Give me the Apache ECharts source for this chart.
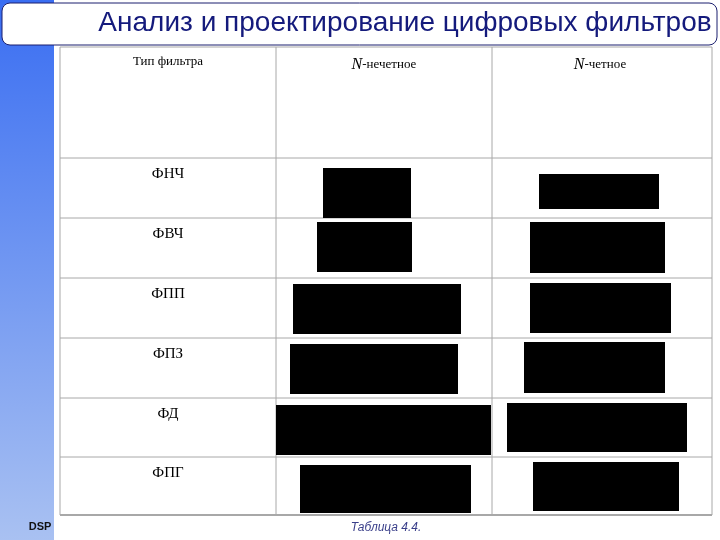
<!DOCTYPE html>
<html><head><meta charset="utf-8">
<script src="https://cdn.jsdelivr.net/npm/echarts@6/dist/echarts.min.js"></script>
<style>html,body{margin:0;padding:0;background:#fff}#c{width:720px;height:540px}</style>
</head><body><div id="c"></div>
<script>
// filter types (rows) and column headers
const filterTypes = ['ФНЧ', 'ФВЧ', 'ФПП', 'ФПЗ', 'ФД', 'ФПГ'];
const columns = ['Тип фильтра', 'N-нечетное', 'N-четное'];
// response sketches: [x0, x1, y0, y1] in slide units
const oddShapes = [[323, 411, 168, 218], [317, 412, 222, 272], [293, 461, 284, 334],
  [290, 458, 344, 394], [276, 491, 405, 455], [300, 471, 465, 513]];
const evenShapes = [[539, 659, 174, 209], [530, 665, 222, 273], [530, 671, 283, 333],
  [524, 665, 342, 393], [507, 687, 403, 452], [533, 679, 462, 511]];

const rowLines = [47, 158, 218, 278, 338, 398, 457, 515];
const colLines = [60, 276, 492, 712];

const chart = echarts.init(document.getElementById('c'));

const serif = '"Liberation Serif", "DejaVu Serif", serif';
const graphics = [
  {type: 'rect', shape: {x: 0, y: 0, width: 54, height: 540}, z: -10,
    style: {fill: new echarts.graphic.LinearGradient(0, 0, 0, 1, [
      {offset: 0, color: '#3a6ef2'}, {offset: 1, color: '#a9c1f2'}])}},
  {type: 'rect', shape: {x: 2, y: 3, width: 715, height: 42, r: 8},
    style: {fill: '#fff', stroke: '#1b1f6e', lineWidth: 1}},
  {type: 'text', x: 405, y: 23, style: {text: 'Анализ и проектирование цифровых фильтров',
    font: '28px "Liberation Sans", Arial, sans-serif', fill: '#141a7c', align: 'center', verticalAlign: 'middle',
    textShadowColor: '#8a8aa8', textShadowOffsetX: 1, textShadowOffsetY: 1}},
  {type: 'text', x: 40, y: 527, style: {text: 'DSP', font: 'bold 11px "Liberation Sans", sans-serif',
    fill: '#111', align: 'center', verticalAlign: 'middle'}},
  {type: 'text', x: 386, y: 528, style: {text: 'Таблица 4.4.', font: 'italic 12px "Liberation Sans", sans-serif',
    fill: '#3a3f8a', align: 'center', verticalAlign: 'middle'}}
];
rowLines.forEach(y => graphics.push({type: 'line', shape: {x1: 60, y1: y, x2: 712, y2: y},
  style: {stroke: '#a8a8a8', lineWidth: y === 515 ? 2 : 1}}));
colLines.forEach(x => graphics.push({type: 'line', shape: {x1: x, y1: 47, x2: x, y2: 515},
  style: {stroke: '#a8a8a8', lineWidth: 1}}));
graphics.push({type: 'text', x: 168, y: 62, style: {text: columns[0], font: '13px ' + serif, fill: '#000', align: 'center', verticalAlign: 'middle'}});
graphics.push({type: 'text', x: 384, y: 65, style: {text: '{i|N}-нечетное', font: '13px ' + serif, fill: '#000', align: 'center', verticalAlign: 'middle',
  rich: {i: {fontStyle: 'italic', fontFamily: serif, fontSize: 16}}}});
graphics.push({type: 'text', x: 600, y: 65, style: {text: '{i|N}-четное', font: '13px ' + serif, fill: '#000', align: 'center', verticalAlign: 'middle',
  rich: {i: {fontStyle: 'italic', fontFamily: serif, fontSize: 16}}}});
filterTypes.forEach((t, i) => graphics.push({type: 'text', x: 168, y: rowLines[i + 1] + 16,
  style: {text: t, font: '15px ' + serif, fill: '#000', align: 'center', verticalAlign: 'middle'}}));

function rectSeries(data) {
  return {
    type: 'custom', data: data,
    renderItem: (params, api) => {
      const p0 = api.coord([api.value(0), api.value(2)]);
      const p1 = api.coord([api.value(1), api.value(3)]);
      return {type: 'rect', shape: {x: p0[0], y: p0[1], width: p1[0] - p0[0], height: p1[1] - p0[1]},
        style: {fill: '#000'}};
    }
  };
}

chart.setOption({
  animation: false,
  grid: {left: 0, right: 0, top: 0, bottom: 0},
  xAxis: {type: 'value', min: 0, max: 720, show: false},
  yAxis: {type: 'value', min: 0, max: 540, inverse: true, show: false},
  graphic: graphics,
  series: [rectSeries(oddShapes), rectSeries(evenShapes)]
});
</script></body></html>
